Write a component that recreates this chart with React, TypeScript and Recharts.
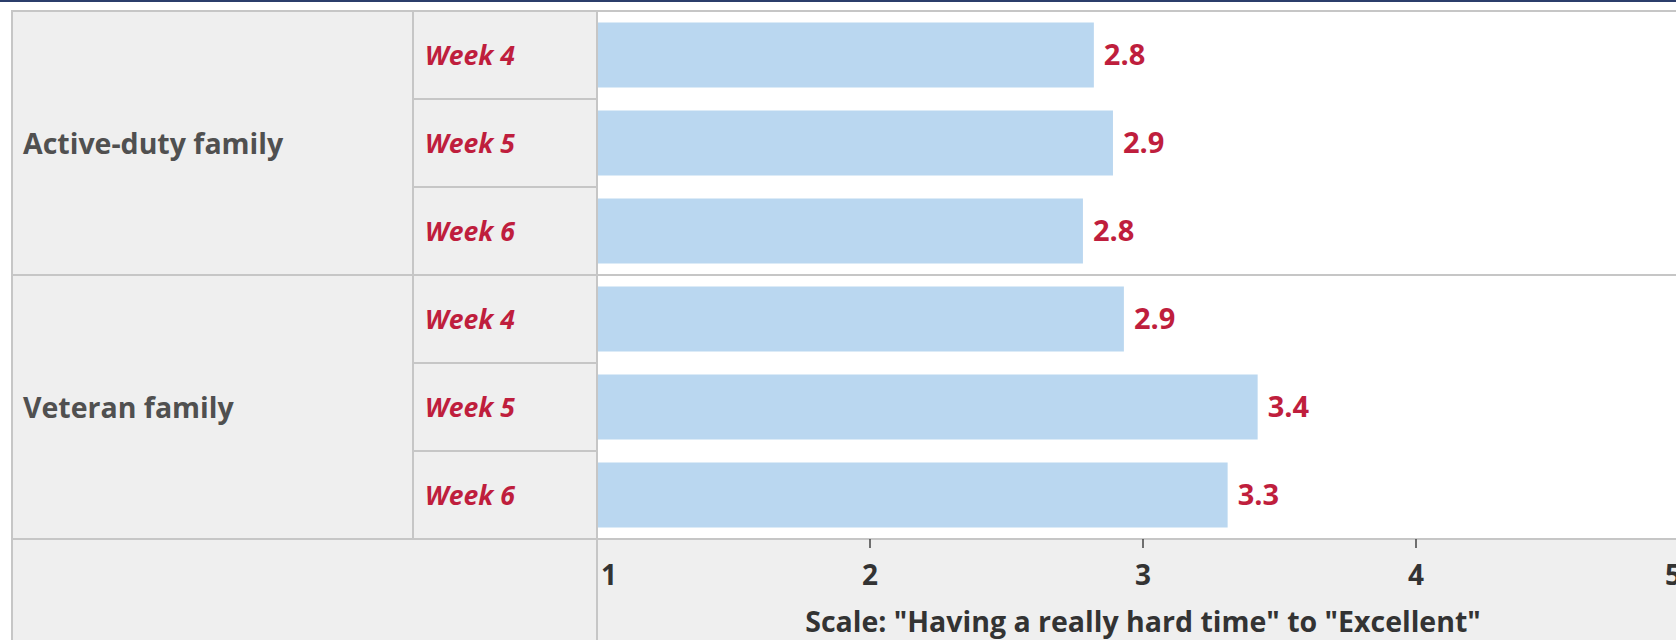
import React from 'react';
import { BarChart, Bar, XAxis, YAxis, LabelList } from 'recharts';

const groups = ['Active-duty family', 'Veteran family'];
const weeks = ['Week 4', 'Week 5', 'Week 6'];
const activeDutyScores = [2.82, 2.89, 2.78];
const veteranScores = [2.93, 3.42, 3.31];
const xTicks = [1, 2, 3, 4, 5];
const xDomain = [1, 5];
const axisTitle = 'Scale: "Having a really hard time" to "Excellent"';

const seriesByGroup = [activeDutyScores, veteranScores];
const data = groups.flatMap((g, gi) =>
  weeks.map((w, wi) => ({ key: `${gi}-${wi}`, group: g, week: w, score: seriesByGroup[gi][wi] }))
);

const FONT = "'Open Sans', 'Noto Sans', sans-serif";
const FS_WEEK = 26.5;
const FS_GROUP = 28.5;
const FS_VALUE = 29;
const FS_TICK = 28;
const FS_TITLE = 28.5;
const CHART_W = 1720;
const CHART_H = 638;
const MARGIN = { top: 9, right: 31, bottom: 0, left: 0 };
const Y_AXIS_W = 597;
const X_AXIS_H = 101;
const COL1 = 12;
const COL2 = 413;
const PLOT_H = CHART_H - MARGIN.top - MARGIN.bottom - X_AXIS_H;
const BAND = PLOT_H / data.length;
const AXIS_Y = MARGIN.top + PLOT_H;

const BORDER = '#c6c6c6';
const CELL = '#efefef';
const BAR = '#bad7f0';
const RED = '#bf1e3d';
const GROUP_TEXT = '#505050';
const AXIS_TEXT = '#333333';

const YTick = (props: any) => {
  const { y, payload } = props;
  const idx = data.findIndex((d) => d.key === payload.value);
  const d = data[idx];
  if (!d) return null;
  const top = y - BAND / 2;
  const pos = idx % weeks.length;
  return (
    <g>
      <rect x={COL2} y={top} width={Y_AXIS_W - COL2} height={BAND} fill={CELL} stroke={BORDER} strokeWidth={2} />
      {pos === 0 && (
        <line x1={COL1} x2={CHART_W} y1={top} y2={top} stroke={BORDER} strokeWidth={2} />
      )}
      {pos === 1 && (
        <g>
          <rect x={COL1} y={y - 1.5 * BAND} width={COL2 - COL1} height={3 * BAND} fill={CELL} stroke={BORDER} strokeWidth={2} />
          <text x={COL1 + 11} y={y} dominantBaseline="central" fontFamily={FONT} fontSize={FS_GROUP} fontWeight={700} fill={GROUP_TEXT}>
            {d.group}
          </text>
        </g>
      )}
      <text x={COL2 + 12} y={y} dominantBaseline="central" fontFamily={FONT} fontSize={FS_WEEK} fontWeight={700} fontStyle="italic" fill={RED}>
        {d.week}
      </text>
    </g>
  );
};

const XTick = (props: any) => {
  const { x, payload, index } = props;
  const first = index === 0;
  const last = index === xTicks.length - 1;
  return (
    <g>
      {first && (
        <g>
          <rect x={COL1} y={AXIS_Y} width={CHART_W} height={X_AXIS_H + 4} fill={CELL} />
          <line x1={COL1} x2={CHART_W} y1={AXIS_Y} y2={AXIS_Y} stroke={BORDER} strokeWidth={2} />
          <line x1={COL1} x2={COL1} y1={AXIS_Y} y2={CHART_H + 2} stroke={BORDER} strokeWidth={2} />
          <line x1={Y_AXIS_W} x2={Y_AXIS_W} y1={AXIS_Y} y2={CHART_H + 2} stroke={BORDER} strokeWidth={2} />
        </g>
      )}
      {!first && <line x1={x} x2={x} y1={AXIS_Y} y2={AXIS_Y + 9} stroke="#444" strokeWidth={1.5} />}
      <text
        x={first ? x + 4 : last ? x - 8 : x}
        y={AXIS_Y + 35}
        textAnchor={first ? 'start' : last ? 'end' : 'middle'}
        dominantBaseline="central"
        fontFamily={FONT}
        fontSize={FS_TICK}
        fontWeight={700}
        fill={AXIS_TEXT}
      >
        {payload.value}
      </text>
    </g>
  );
};

export default function App() {
  return (
    <div style={{ width: 1676, height: 640, overflow: 'hidden', background: '#fff' }}>
      <style>{'html,body{margin:0;padding:0;overflow:hidden;}'}</style>
      <div style={{ height: 2, background: '#2b3d6b' }} />
      <BarChart
        width={CHART_W}
        height={CHART_H}
        data={data}
        layout="vertical"
        margin={MARGIN}
        barCategoryGap="13%"
      >
        <YAxis
          type="category"
          dataKey="key"
          width={Y_AXIS_W}
          axisLine={false}
          tickLine={false}
          tick={<YTick />}
          interval={0}
        />
        <XAxis
          type="number"
          domain={xDomain}
          ticks={xTicks}
          height={X_AXIS_H}
          axisLine={false}
          tickLine={false}
          tick={<XTick />}
          interval={0}
          allowDataOverflow
          label={{
            value: axisTitle,
            position: 'insideBottom',
            offset: 8,
            fill: AXIS_TEXT,
            fontFamily: FONT,
            fontSize: FS_TITLE,
            fontWeight: 700,
          }}
        />
        <Bar dataKey="score" fill={BAR} isAnimationActive={false}>
          <LabelList
            dataKey="score"
            position="right"
            offset={10}
            formatter={(v: any) => Number(v).toFixed(1)}
            fill={RED}
            fontFamily={FONT}
            fontSize={FS_VALUE}
            fontWeight={700}
          />
        </Bar>
      </BarChart>
    </div>
  );
}
